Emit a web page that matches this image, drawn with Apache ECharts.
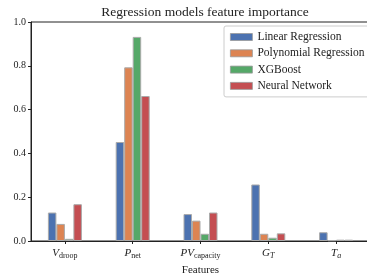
<!DOCTYPE html>
<html><head><meta charset="utf-8">
<script src="https://cdn.jsdelivr.net/npm/echarts@6/dist/echarts.min.js"></script>
<style>html,body{margin:0;padding:0;background:#fff}#c{width:367px;height:275px}</style>
</head><body><div id="c"></div>
<script>
const categories = ['vdroop', 'pnet', 'pvcap', 'gt', 'ta'];
const categoryLabels = ['{i|V}{s|droop}', '{i|P}{s|net}', '{i|PV}{s|capacity}', '{i|G}{si|T}', '{i|T}{si|a}'];
const seriesNames = ['Linear Regression', 'Polynomial Regression', 'XGBoost', 'Neural Network'];
const linearRegression = [0.130, 0.452, 0.123, 0.258, 0.040];
const polynomialRegression = [0.078, 0.793, 0.093, 0.033, 0.003];
const xgboost = [0.010, 0.932, 0.033, 0.015, 0.006];
const neuralNetwork = [0.168, 0.662, 0.130, 0.035, 0.006];
const yTicks = [0, 0.2, 0.4, 0.6, 0.8, 1.0];
const colors = ['#4C72B0', '#DD8452', '#55A868', '#C44E52'];
const font = 'Liberation Serif';
const values = [linearRegression, polynomialRegression, xgboost, neuralNetwork];

const chart = echarts.init(document.getElementById('c'), null, {renderer: 'canvas'});
chart.setOption({
  animation: false,
  textStyle: {fontFamily: font},
  title: {text: 'Regression models feature importance', left: 200, textAlign: 'center', top: 0,
    textStyle: {fontFamily: font, fontSize: 13.5, fontWeight: 'normal', color: '#222'}},
  legend: {
    data: seriesNames, orient: 'vertical', left: 224, top: 26,
    icon: 'rect', itemWidth: 22, itemHeight: 7, itemGap: 4.3,
    backgroundColor: '#fff', borderColor: '#ccc', borderWidth: 1, borderRadius: 2,
    padding: [5, 8, 5, 6],
    textStyle: {fontFamily: font, fontSize: 11.5, color: '#222'},
    itemStyle: {borderColor: '#999', borderWidth: 0.8}
  },
  grid: {left: 31, right: -3, top: 22, bottom: 34, outerBoundsMode: 'none', containLabel: false,
    show: true, borderColor: '#222', borderWidth: 1, backgroundColor: 'transparent'},
  xAxis: {
    type: 'category', data: categories,
    name: 'Features', nameLocation: 'middle', nameGap: 24,
    nameTextStyle: {fontFamily: font, fontSize: 11, color: '#222'},
    axisLine: {lineStyle: {color: '#222', width: 1}},
    axisTick: {show: true, alignWithLabel: true, interval: 0, length: 3, lineStyle: {color: '#222'}},
    axisLabel: {
      margin: 5, interval: 0,
      formatter: (v, i) => categoryLabels[i],
      rich: {
        i: {fontFamily: font, fontStyle: 'italic', fontSize: 11, color: '#222'},
        s: {fontFamily: font, fontSize: 8, color: '#222', verticalAlign: 'bottom', padding: [6, 0, 0, 0]},
        si: {fontFamily: font, fontStyle: 'italic', fontSize: 8, color: '#222', verticalAlign: 'bottom', padding: [6, 0, 0, 0]}
      }
    }
  },
  yAxis: {
    type: 'value', min: 0, max: 1.0, interval: 0.2,
    axisLine: {show: true, lineStyle: {color: '#222', width: 1}},
    axisTick: {show: true, length: 3, lineStyle: {color: '#222'}},
    splitLine: {show: false},
    axisLabel: {fontFamily: font, fontSize: 10, color: '#222', margin: 5,
      formatter: v => yTicks.includes(+v.toFixed(1)) ? v.toFixed(1) : ''}
  },
  series: seriesNames.map((n, k) => ({
    name: n, type: 'bar', data: values[k],
    barWidth: 8.5, barGap: '0%',
    itemStyle: {color: colors[k], borderColor: '#aaa', borderWidth: 1}
  }))
});
</script></body></html>
